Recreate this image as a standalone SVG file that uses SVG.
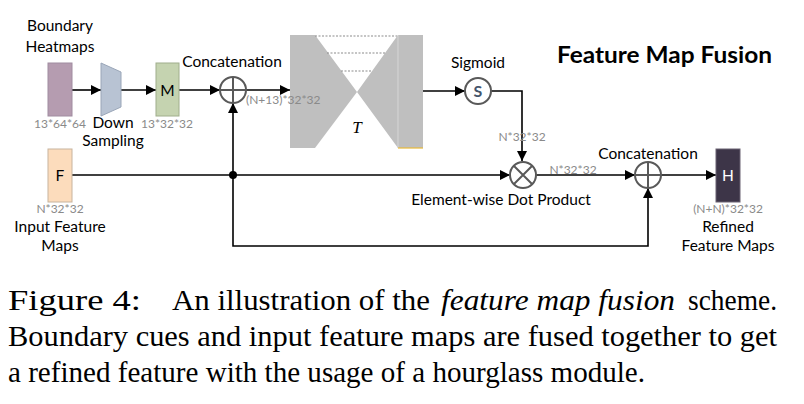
<svg xmlns="http://www.w3.org/2000/svg" width="804" height="404" viewBox="0 0 804 404">
<defs>
<style>
.lbl{font-family:Lato,"Open Sans","Liberation Sans",sans-serif;font-size:15.5px;fill:#000}
.dim{font-family:Lato,"Open Sans","Liberation Sans",sans-serif;font-size:12px;fill:#8a8a8a}
.ln{fill:none;stroke:#000;stroke-width:1.6}
.op{fill:#fff;stroke:#595959;stroke-width:2}
.cap{font-family:"Liberation Serif","Times New Roman",serif;font-size:29px;fill:#000}
</style>
<marker id="ah" viewBox="0 0 10 10" refX="10" refY="5" markerWidth="10" markerHeight="10" markerUnits="userSpaceOnUse" orient="auto">
<path d="M0,0 L10,5 L0,10 z" fill="#000"/>
</marker>
</defs>
<rect width="804" height="404" fill="#fff"/>

<g id="connectors">
<line class="ln" x1="72" y1="90" x2="101" y2="90" marker-end="url(#ah)"/>
<line class="ln" x1="121" y1="90" x2="156" y2="90" marker-end="url(#ah)"/>
<line class="ln" x1="179" y1="90" x2="220" y2="90" marker-end="url(#ah)"/>
<line class="ln" x1="246" y1="90" x2="290" y2="90" marker-end="url(#ah)"/>
<line class="ln" x1="423" y1="91" x2="465" y2="91" marker-end="url(#ah)"/>
<polyline class="ln" points="491,91 522,91 522,161" marker-end="url(#ah)"/>
<line class="ln" x1="72" y1="175" x2="510" y2="175" marker-end="url(#ah)"/>
<line class="ln" x1="536" y1="175" x2="635" y2="175" marker-end="url(#ah)"/>
<line class="ln" x1="661" y1="175" x2="716" y2="175" marker-end="url(#ah)"/>
<polyline class="ln" points="233,175 233,246 648,246 648,188" marker-end="url(#ah)"/>
<line class="ln" x1="233" y1="175" x2="233" y2="103" marker-end="url(#ah)"/>
<circle cx="233" cy="175" r="4" fill="#000"/>
</g>

<g id="heatmaps">
<text class="lbl" x="60" y="31" text-anchor="middle">Boundary</text>
<text class="lbl" x="60" y="52" text-anchor="middle">Heatmaps</text>
<rect x="48" y="63" width="24" height="53" fill="#b59cb0" stroke="#a08ca0" stroke-width="1"/>
<text class="dim" x="60" y="128" text-anchor="middle">13*64*64</text>
</g>

<g id="downsampling">
<polygon points="101,63 121,72 121,107 101,116" fill="#b8c3d3" stroke="#9aa6b8" stroke-width="1"/>
<text class="lbl" x="113" y="128" text-anchor="middle">Down</text>
<text class="lbl" x="113" y="146" text-anchor="middle">Sampling</text>
</g>

<g id="M">
<rect x="156" y="63" width="23" height="53" fill="#c5d3b0" stroke="#a0ae8c" stroke-width="1"/>
<text class="lbl" x="167.5" y="95.5" text-anchor="middle" font-size="16">M</text>
<text class="dim" x="167" y="128" text-anchor="middle">13*32*32</text>
</g>

<g id="hourglass">
<path d="M290,35 H315 L357,92 L398,35 H423 V148 H398 L357,92 L315,148 H290 Z" fill="#bfbfbf"/>
<line x1="398" y1="35" x2="398" y2="148" stroke="#d6d6d6" stroke-width="1"/>
<line x1="398" y1="148" x2="423" y2="148" stroke="#e8b93a" stroke-width="1.2"/>
<g stroke="#8c8c8c" stroke-width="1.2" stroke-dasharray="2,1.5">
<line x1="315" y1="36" x2="397" y2="36"/>
<line x1="327" y1="53" x2="385" y2="53"/>
<line x1="341" y1="71" x2="372" y2="71"/>
</g>
<text x="357" y="133" text-anchor="middle" font-family="'Liberation Serif','Times New Roman',serif" font-style="italic" font-size="17">T</text>
</g>

<g id="concat1">
<text class="lbl" x="232" y="67" text-anchor="middle">Concatenation</text>
<circle class="op" cx="233" cy="90" r="13"/>
<path d="M220,90 H246 M233,77 V103" stroke="#595959" stroke-width="2"/>
<text class="dim" x="246" y="104">(N+13)*32*32</text>
</g>

<g id="sigmoid">
<text class="lbl" x="478" y="68" text-anchor="middle">Sigmoid</text>
<circle class="op" cx="478" cy="91" r="13"/>
<text x="478" y="97" text-anchor="middle" font-family="Lato,'Open Sans',sans-serif" font-weight="bold" font-size="16" fill="#44546a">S</text>
</g>

<g id="title">
<text x="557" y="63" font-family="Lato,'Open Sans','Liberation Sans',sans-serif" font-weight="bold" font-size="22" textLength="215" lengthAdjust="spacingAndGlyphs">Feature Map Fusion</text>
</g>

<g id="F">
<rect x="48" y="149" width="24" height="53" fill="#fcdcbc" stroke="#c8b49e" stroke-width="1"/>
<text class="lbl" x="60" y="180.5" text-anchor="middle" font-size="16">F</text>
<text class="dim" x="60" y="213" text-anchor="middle">N*32*32</text>
<text class="lbl" x="60" y="232" text-anchor="middle">Input Feature</text>
<text class="lbl" x="60" y="251" text-anchor="middle">Maps</text>
</g>

<g id="dotproduct">
<text class="dim" x="522" y="141" text-anchor="middle">N*32*32</text>
<circle class="op" cx="523" cy="175" r="13"/>
<path d="M514,166 L532,184 M532,166 L514,184" stroke="#595959" stroke-width="2"/>
<text class="lbl" x="501" y="205" text-anchor="middle">Element-wise Dot Product</text>
<text class="dim" x="573" y="174" text-anchor="middle">N*32*32</text>
</g>

<g id="concat2">
<text class="lbl" x="648" y="159" text-anchor="middle">Concatenation</text>
<circle class="op" cx="648" cy="175" r="13"/>
<path d="M635,175 H661 M648,162 V188" stroke="#595959" stroke-width="2"/>
</g>

<g id="H">
<rect x="716" y="149" width="24" height="53" fill="#3d3548" stroke="#6a6272" stroke-width="1"/>
<text class="lbl" x="728" y="180.5" text-anchor="middle" font-size="16" style="fill:#fff">H</text>
<text class="dim" x="728" y="213" text-anchor="middle">(N+N)*32*32</text>
<text class="lbl" x="728" y="232" text-anchor="middle">Refined</text>
<text class="lbl" x="728" y="251" text-anchor="middle">Feature Maps</text>
</g>

<g id="caption">
<text class="cap" x="8" y="310" textLength="133" lengthAdjust="spacingAndGlyphs">Figure 4:</text>
<text class="cap" x="172" y="310" textLength="258" lengthAdjust="spacingAndGlyphs">An illustration of the</text>
<text class="cap" x="441" y="310" font-style="italic" textLength="234" lengthAdjust="spacingAndGlyphs">feature map fusion</text>
<text class="cap" x="688" y="310" textLength="89" lengthAdjust="spacingAndGlyphs">scheme.</text>
<text class="cap" x="8" y="346" textLength="769" lengthAdjust="spacingAndGlyphs">Boundary cues and input feature maps are fused together to get</text>
<text class="cap" x="8" y="382" textLength="637" lengthAdjust="spacingAndGlyphs">a refined feature with the usage of a hourglass module.</text>
</g>
</svg>
